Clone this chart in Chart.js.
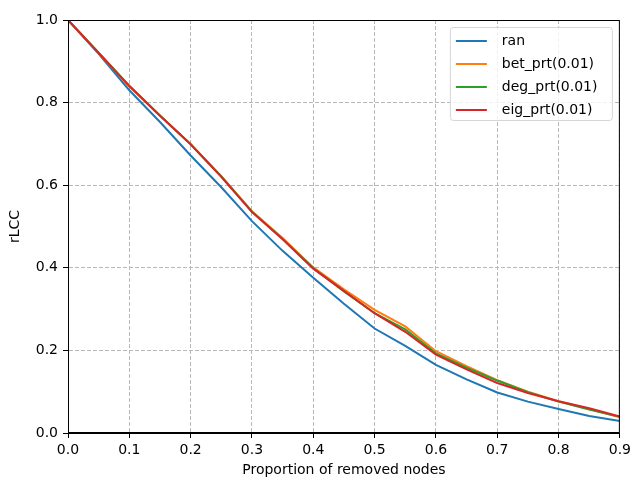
<!DOCTYPE html>
<html>
<head>
<meta charset="utf-8">
<script src="https://cdn.jsdelivr.net/npm/chart.js@4/dist/chart.umd.min.js"></script>
<style>
    html, body { margin: 0; padding: 0; background: #fff; }
    #wrap { width: 635px; height: 479px; position: relative; }
</style>
</head>
<body>
<div id="wrap"><canvas id="rlccChart"></canvas></div>
<script>
// Proportion of removed nodes
const removed = [0, 0.05, 0.1, 0.15, 0.2, 0.25, 0.3, 0.35, 0.4, 0.45, 0.5, 0.55, 0.6, 0.65, 0.7, 0.75, 0.8, 0.85, 0.9];

// rLCC per strategy
const ran    = [1.0, 0.918, 0.83, 0.753, 0.672, 0.595, 0.513, 0.441, 0.376, 0.313, 0.253, 0.211, 0.165, 0.13, 0.098, 0.076, 0.058, 0.041, 0.029];
const betPrt = [1.0, 0.92, 0.839, 0.768, 0.699, 0.622, 0.537, 0.472, 0.401, 0.348, 0.298, 0.258, 0.198, 0.162, 0.128, 0.1, 0.077, 0.058, 0.038];
const degPrt = [1.0, 0.921, 0.841, 0.769, 0.699, 0.621, 0.536, 0.47, 0.399, 0.343, 0.29, 0.251, 0.193, 0.158, 0.127, 0.099, 0.076, 0.057, 0.039];
const eigPrt = [1.0, 0.92, 0.84, 0.768, 0.699, 0.62, 0.535, 0.469, 0.398, 0.344, 0.29, 0.245, 0.19, 0.154, 0.121, 0.097, 0.077, 0.06, 0.04];

const seriesNames = ['ran', 'bet_prt(0.01)', 'deg_prt(0.01)', 'eig_prt(0.01)'];
const seriesColors = ['#1f77b4', '#ff7f0e', '#2ca02c', '#d62728'];
const seriesValues = [ran, betPrt, degPrt, eigPrt];

const xTicks = [0, 0.1, 0.2, 0.3, 0.4, 0.5, 0.6, 0.7, 0.8, 0.9];
const yTicks = [0, 0.2, 0.4, 0.6, 0.8, 1.0];

const FONT = 'DejaVu Sans';

// box round the plot plus a legend in the upper right corner
const framePlugin = {
    id: 'frameAndLegend',
    afterDraw(chart) {
        const ctx = chart.ctx;
        const a = chart.chartArea;
        ctx.save();
        ctx.strokeStyle = '#000';
        ctx.lineWidth = 1;
        ctx.strokeRect(a.left + 0.5, a.top + 0.5, a.right - a.left - 1, a.bottom - a.top - 1);

        // legend box
        const boxW = 162, boxH = 93;
        const bx = a.right - 8 - boxW;
        const by = a.top + 7;
        ctx.beginPath();
        ctx.roundRect(bx + 0.5, by + 0.5, boxW, boxH, 3);
        ctx.fillStyle = 'rgba(255,255,255,0.8)';
        ctx.fill();
        ctx.strokeStyle = '#d6d6d6';
        ctx.stroke();

        ctx.font = '14px "' + FONT + '"';
        ctx.textBaseline = 'middle';
        ctx.textAlign = 'left';
        chart.data.datasets.forEach((ds, i) => {
            const yy = by + 14 + i * 23;
            ctx.strokeStyle = ds.borderColor;
            ctx.lineWidth = 2;
            ctx.beginPath();
            ctx.moveTo(bx + 6, yy);
            ctx.lineTo(bx + 37, yy);
            ctx.stroke();
            ctx.fillStyle = '#000';
            ctx.fillText(ds.label, bx + 52, yy);
        });
        ctx.restore();
    }
};

const gridOpts = {
    color: '#b8b8b8',
    lineWidth: 1,
    tickLength: 5,
    tickColor: '#000',
    tickBorderDash: []
};

const ctx = document.getElementById('rlccChart').getContext('2d');
new Chart(ctx, {
    type: 'line',
    data: {
        datasets: seriesNames.map((name, i) => ({
            label: name,
            data: removed.map((x, j) => ({ x: x, y: seriesValues[i][j] })),
            borderColor: seriesColors[i],
            backgroundColor: seriesColors[i],
            borderWidth: 2,
            pointRadius: 0,
            tension: 0,
            fill: false,
            order: seriesNames.length - 1 - i  // later series painted on top
        }))
    },
    options: {
        responsive: true,
        maintainAspectRatio: false,
        animation: false,
        layout: { padding: { top: 20, right: 12, left: 0, bottom: 0 } },
        plugins: {
            legend: { display: false },
            tooltip: { enabled: false }
        },
        scales: {
            x: {
                type: 'linear',
                min: 0,
                max: 0.9,
                afterBuildTicks: scale => { scale.ticks = xTicks.map(v => ({ value: v })); },
                afterFit: scale => { scale.height = 46; },
                ticks: {
                    color: '#000',
                    padding: 4,
                    maxRotation: 0,
                    font: { family: FONT, size: 14 },
                    callback: v => Number(v).toFixed(1)
                },
                grid: gridOpts,
                // in v4 the dash of the grid lines lives under border
                border: { display: true, color: '#000', width: 1, dash: [4, 2] },
                title: {
                    display: true,
                    text: 'Proportion of removed nodes',
                    color: '#000',
                    font: { family: FONT, size: 14 },
                    padding: { top: 0, bottom: 0 }
                }
            },
            y: {
                min: 0,
                max: 1,
                afterBuildTicks: scale => { scale.ticks = yTicks.map(v => ({ value: v })); },
                afterFit: scale => { scale.width = 68; },
                ticks: {
                    color: '#000',
                    padding: 5,
                    font: { family: FONT, size: 14 },
                    callback: v => Number(v).toFixed(1)
                },
                grid: gridOpts,
                border: { display: true, color: '#000', width: 1, dash: [4, 2] },
                title: {
                    display: true,
                    text: 'rLCC',
                    color: '#000',
                    font: { family: FONT, size: 14 },
                    padding: { top: 7, bottom: 0 }
                }
            }
        }
    },
    plugins: [framePlugin]
});
</script>
</body>
</html>
